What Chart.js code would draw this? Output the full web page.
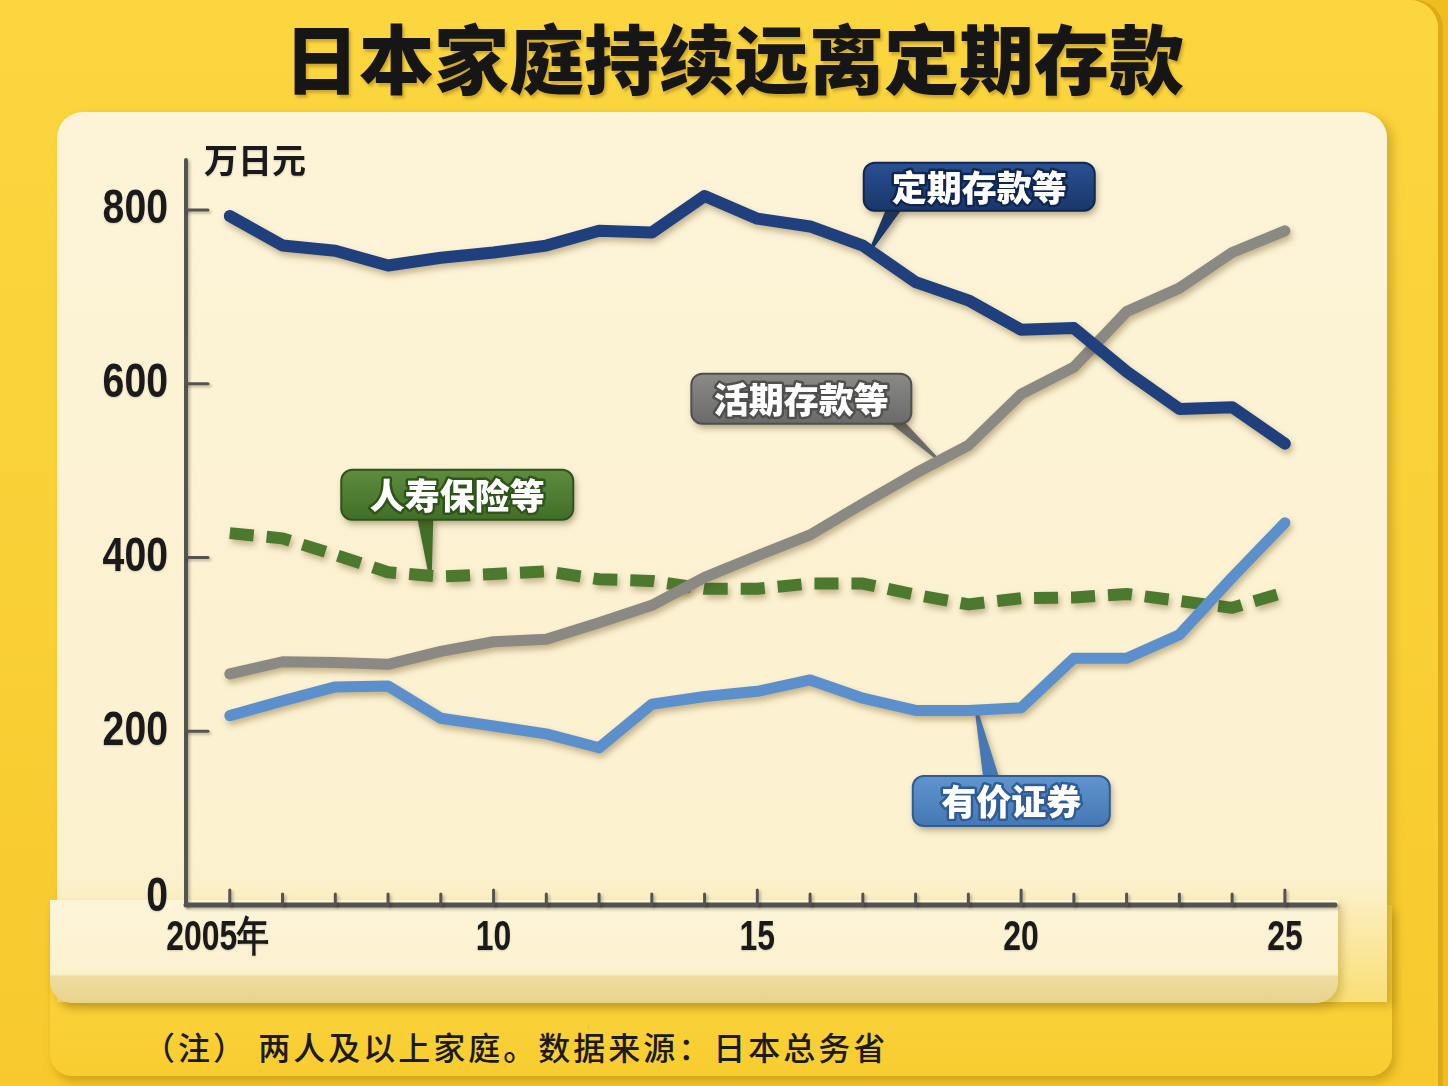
<!DOCTYPE html>
<html>
<head>
<meta charset="utf-8">
<script src="https://cdn.jsdelivr.net/npm/chart.js@4.4.1/dist/chart.umd.min.js"></script>
<style>
  html, body { margin: 0; padding: 0; }
  body {
    width: 1448px; height: 1086px; overflow: hidden; position: relative;
    background: #efbd1f;
    font-family: "Noto Sans CJK SC", sans-serif;
  }
  .frame {
    position: absolute; left: 0; top: 0; width: 1438px; height: 1086px;
    background: linear-gradient(180deg, #fbd63f 0%, #f9d036 55%, #f7c92c 100%);
    border-radius: 0 28px 0 0;
    box-shadow: 5px 0 0 #dcaa18;
  }
  .title {
    position: absolute; left: 0; top: 6px; width: 1468px;
    text-align: center; font-size: 75px; font-weight: 900; line-height: 100px;
    color: #161616; text-shadow: 2px 3px 3px rgba(120, 80, 0, .35);
  }
  .lower {
    position: absolute; left: 50px; top: 905px; width: 1342px; height: 171px;
    background: linear-gradient(180deg, #fbd844, #f8cd30);
    border-radius: 0 0 22px 22px;
    box-shadow: 4px 6px 9px rgba(140, 100, 0, .35);
  }
  .card {
    position: absolute; left: 57px; top: 112px; width: 1330px; height: 890px;
    background: linear-gradient(180deg, #fcf4d8 0%, #fcf1cf 86%, #f9df75 100%);
    border-radius: 26px 26px 0 0;
    box-shadow: 6px 4px 10px rgba(140, 100, 0, .35);
  }
  .strip {
    position: absolute; left: 50px; top: 900px; width: 1288px; height: 103px;
    background: linear-gradient(180deg, #fdf5d9 0%, #fcf1cf 72%, #efdda0 74%, #e8d38d 100%);
    border-radius: 0 0 22px 22px;
    box-shadow: 4px 5px 8px rgba(140, 100, 0, .3);
  }
  .note {
    position: absolute; left: 143px; top: 1023px; letter-spacing: 3px;
    font-size: 32px; font-weight: 500; color: #1b1b1b; white-space: pre;
  }
  canvas { position: absolute; left: 0; top: 0; }
</style>
</head>
<body>
<div class="frame"></div>
<div class="title">日本家庭持续远离定期存款</div>
<div class="lower"></div>
<div class="card"></div>
<div class="strip"></div>
<div class="note">（注） 两人及以上家庭。数据来源：日本总务省</div>
<canvas id="c" width="1448" height="1086"></canvas>
<script>
const years = [2005, 2006, 2007, 2008, 2009, 2010, 2011, 2012, 2013, 2014, 2015,
               2016, 2017, 2018, 2019, 2020, 2021, 2022, 2023, 2024, 2025];
const yTicks = [0, 200, 400, 600, 800];
const yUnit = "万日元";

// 万日元
const teiki  = [793, 759, 753, 736, 745, 751, 759, 776, 774, 816, 790, 781, 759, 717, 696, 662, 664, 614, 571, 573, 531];
const futsu  = [266, 280, 279, 277, 292, 303, 306, 325, 345, 377, 402, 426, 462, 497, 529, 588, 619, 683, 710, 751, 776];
const yuka   = [218, 235, 251, 252, 215, 206, 197, 181, 231, 240, 246, 259, 238, 224, 224, 227, 284, 284, 311, 377, 440];
const seimei = [428, 422, 403, 383, 378, 381, 384, 375, 373, 364, 364, 370, 370, 357, 346, 353, 354, 358, 350, 342, 360];

const names = ["定期存款等", "活期存款等", "有价证券", "人寿保险等"];

const NUM_FONT = "'Liberation Sans', Arial, sans-serif";
const CJK_FONT = "'Noto Sans CJK SC', sans-serif";

function pts(vals) {
  return years.map((yr, i) => ({ x: yr, y: vals[i] }));
}

function yearLabel(v) {
  if (v === 2005) return "2005年";
  return v % 5 === 0 ? String(v - 2000) : "";
}

// soft drop shadow under each line
const lineShadow = {
  id: "lineShadow",
  beforeDatasetDraw(chart) {
    const ctx = chart.ctx;
    ctx.save();
    ctx.shadowColor = "rgba(90, 60, 0, 0.35)";
    ctx.shadowBlur = 6;
    ctx.shadowOffsetX = 2;
    ctx.shadowOffsetY = 4;
  },
  afterDatasetDraw(chart) {
    chart.ctx.restore();
  }
};

// condensed text, drawn at a scale position
function narrowText(ctx, text, x, y, squeeze, align) {
  ctx.save();
  ctx.translate(x, y);
  ctx.scale(squeeze, 1);
  ctx.textAlign = align;
  ctx.fillText(text, 0, 0);
  ctx.restore();
}

// axis lines, tick marks and tick labels, placed from the scales
const axisDecor = {
  id: "axisDecor",
  beforeDatasetsDraw(chart) {
    const { ctx, chartArea: a, scales: { x, y } } = chart;
    const seg = (x1, y1, x2, y2) => {
      ctx.beginPath(); ctx.moveTo(x1, y1); ctx.lineTo(x2, y2); ctx.stroke();
    };
    ctx.save();
    ctx.shadowColor = "rgba(0,0,0,0.25)";
    ctx.shadowBlur = 3;
    ctx.shadowOffsetX = 2;
    ctx.shadowOffsetY = 2;
    ctx.strokeStyle = "#55534e";
    ctx.lineCap = "round";
    ctx.lineWidth = 4;
    seg(a.left, a.top, a.left, a.bottom);
    ctx.lineWidth = 5;
    seg(a.left, a.bottom, a.right, a.bottom);
    ctx.lineWidth = 3;
    yTicks.forEach(v => {
      if (v === 0) return;
      const py = y.getPixelForValue(v);
      seg(a.left, py, a.left + 22, py);
    });
    years.forEach(v => {
      const px = x.getPixelForValue(v);
      seg(px, a.bottom, px, a.bottom - (v % 5 === 0 ? 15 : 11));
    });
    ctx.restore();

    ctx.save();
    ctx.fillStyle = "#1a1a1a";
    ctx.textBaseline = "middle";
    ctx.shadowColor = "rgba(0,0,0,0.18)";
    ctx.shadowBlur = 2;
    ctx.shadowOffsetY = 1;
    ctx.font = "bold 49px " + NUM_FONT;
    yTicks.forEach(v => {
      const py = y.getPixelForValue(v) - (v === 0 ? 8 : 0);
      narrowText(ctx, String(v), a.left - 18, py, 0.8, "right");
    });
    ctx.font = "bold 42px " + NUM_FONT;
    years.forEach(v => {
      const t = yearLabel(v);
      if (!t) return;
      const px = x.getPixelForValue(v) - (v === 2005 ? 12 : 0);
      narrowText(ctx, t, px, a.bottom + 33, 0.76, "center");
    });
    ctx.font = "bold 34px " + CJK_FONT;
    ctx.textAlign = "left";
    ctx.fillText(yUnit, a.left + 18, a.top);
    ctx.restore();
  }
};

// series name callouts, anchored on a point of their own line
const callouts = [
  { ds: 0, at: 12.14, dx: 109, dy: -64, w: 231, h: 48, bx: -85, by: 22,
    top: "#2a5092", bottom: "#193769", edge: "#102650" },
  { ds: 1, at: 13.45, dx: -138, dy: -62, w: 220, h: 50, bx: 95, by: 23,
    top: "#8a8a88", bottom: "#6a6a68", edge: "#4f4f4d" },
  { ds: 3, at: 3.8, dx: 27, dy: -81, w: 232, h: 50, bx: -32, by: 23,
    top: "#5d8c3e", bottom: "#426f28", edge: "#2f541a" },
  { ds: 2, at: 14.15, dx: 35, dy: 91, w: 197, h: 50, bx: -20, by: -23,
    top: "#5f95cf", bottom: "#4578b4", edge: "#2f5c94" }
];

const calloutPlugin = {
  id: "callouts",
  beforeDatasetsDraw(chart) {
    const ctx = chart.ctx;
    callouts.forEach(c => {
      const els = chart.getDatasetMeta(c.ds).data;
      const i = Math.floor(c.at), f = c.at - i;
      const tx = els[i].x + (els[i + 1].x - els[i].x) * f;
      const ty = els[i].y + (els[i + 1].y - els[i].y) * f;
      const cx = tx + c.dx, cy = ty + c.dy;
      const bxp = cx + c.bx, byp = cy + c.by;

      ctx.save();
      ctx.shadowColor = "rgba(60, 40, 0, 0.4)";
      ctx.shadowBlur = 7;
      ctx.shadowOffsetX = 2;
      ctx.shadowOffsetY = 4;

      ctx.fillStyle = c.bottom;
      ctx.beginPath();
      ctx.moveTo(bxp - 8, byp);
      ctx.lineTo(bxp + 8, byp);
      ctx.lineTo(tx + 1.5, ty);
      ctx.lineTo(tx - 1.5, ty);
      ctx.closePath();
      ctx.fill();

      const g = ctx.createLinearGradient(0, cy - c.h / 2, 0, cy + c.h / 2);
      g.addColorStop(0, c.top);
      g.addColorStop(1, c.bottom);
      ctx.fillStyle = g;
      ctx.beginPath();
      ctx.roundRect(cx - c.w / 2, cy - c.h / 2, c.w, c.h, 11);
      ctx.fill();
      ctx.shadowColor = "transparent";
      ctx.lineWidth = 2;
      ctx.strokeStyle = c.edge;
      ctx.stroke();

      ctx.font = "900 35px " + CJK_FONT;
      ctx.textAlign = "center";
      ctx.textBaseline = "middle";
      ctx.lineJoin = "round";
      ctx.lineWidth = 5;
      ctx.strokeStyle = c.edge;
      ctx.strokeText(names[c.ds], cx, cy + 1);
      ctx.fillStyle = "#ffffff";
      ctx.fillText(names[c.ds], cx, cy + 1);
      ctx.restore();
    });
  }
};

new Chart(document.getElementById("c"), {
  type: "line",
  data: {
    datasets: [
      { label: names[0], data: pts(teiki), borderColor: "#1f3f7d", borderWidth: 12,
        borderCapStyle: "round", borderJoinStyle: "round" },
      { label: names[1], data: pts(futsu), borderColor: "#8b8984", borderWidth: 11,
        borderCapStyle: "round", borderJoinStyle: "round" },
      { label: names[2], data: pts(yuka), borderColor: "#5b90cd", borderWidth: 11,
        borderCapStyle: "round", borderJoinStyle: "round" },
      { label: names[3], data: pts(seimei), borderColor: "#4b7a2e", borderWidth: 12,
        borderDash: [24, 13], borderCapStyle: "butt", borderJoinStyle: "round" }
    ]
  },
  options: {
    responsive: false,
    animation: false,
    layout: { padding: { left: 0, top: 160, right: 113, bottom: 121 } },
    elements: { point: { radius: 0 }, line: { tension: 0, fill: false } },
    plugins: { legend: { display: false }, tooltip: { enabled: false } },
    scales: {
      x: {
        type: "linear",
        min: 2004.17,
        max: 2025.95,
        afterBuildTicks: s => { s.ticks = years.map(v => ({ value: v })); },
        afterFit: s => { s.height = 60; },
        grid: { display: false, drawTicks: false },
        border: { display: false },
        ticks: { display: false, autoSkip: false, maxRotation: 0, callback: yearLabel }
      },
      y: {
        min: 0,
        max: 857.5,
        afterBuildTicks: s => { s.ticks = yTicks.map(v => ({ value: v })); },
        afterFit: s => { s.width = 186; },
        grid: { display: false, drawTicks: false },
        border: { display: false },
        ticks: { display: false }
      }
    }
  },
  plugins: [axisDecor, calloutPlugin, lineShadow]
});
</script>
</body>
</html>
